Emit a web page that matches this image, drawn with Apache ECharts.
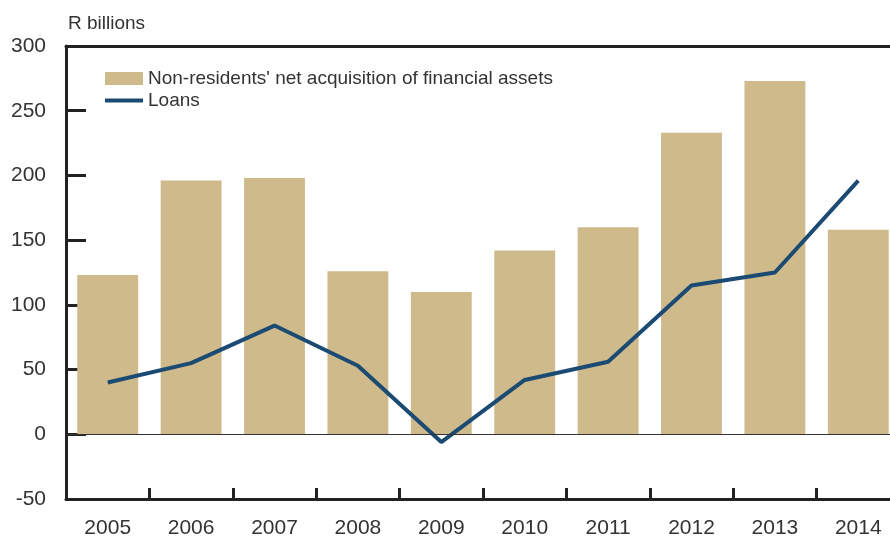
<!DOCTYPE html>
<html>
<head>
<meta charset="utf-8">
<script src="https://cdn.jsdelivr.net/npm/echarts@6/dist/echarts.min.js"></script>
<style>
  html, body { margin: 0; padding: 0; background: #fff; overflow: hidden; }
  /* chart is a bit wider than the window: the last bar is cut off at the right edge */
  #chart { width: 900px; height: 539px; }
</style>
</head>
<body>
<div id="chart"></div>
<script>
const years = ['2005', '2006', '2007', '2008', '2009', '2010', '2011', '2012', '2013', '2014'];
const netAcquisition = [123, 196, 198, 126, 110, 142, 160, 233, 273, 158];
const loans = [40, 55, 84, 53, -6, 42, 56, 115, 125, 196];
const yTicks = [-50, 0, 50, 100, 150, 200, 250, 300];

const barName = "Non-residents' net acquisition of financial assets";
const lineName = 'Loans';
const font = 'Liberation Sans, Arial, sans-serif';
const ink = '#333';

const chart = echarts.init(document.getElementById('chart'));
chart.setOption({
  animation: false,
  textStyle: { fontFamily: font },
  grid: { left: 66, right: 0, top: 46, bottom: 37 },
  title: {
    text: 'R billions',
    left: 63, top: 9,
    textStyle: { fontSize: 19, fontWeight: 'normal', color: ink, fontFamily: font }
  },
  legend: [
    {
      data: [{ name: barName, icon: 'rect' }],
      left: 100, top: 64, itemWidth: 38, itemHeight: 13, itemGap: 10,
      textStyle: { fontSize: 19, color: ink, fontFamily: font }
    },
    {
      data: [{ name: lineName, icon: 'rect' }],
      left: 100, top: 86, itemWidth: 38, itemHeight: 4, itemGap: 10,
      textStyle: { fontSize: 19, color: ink, fontFamily: font }
    }
  ],
  xAxis: [
    {
      type: 'category',
      data: years,
      position: 'bottom',
      axisLine: { onZero: false, lineStyle: { color: '#222', width: 3 } },
      axisTick: { show: true, inside: true, length: 11, lineStyle: { color: '#222', width: 3 } },
      axisLabel: { fontSize: 21, color: ink, margin: 19 },
      splitLine: { show: false }
    },
    {
      type: 'category',
      data: years,
      position: 'top',
      axisLine: { onZero: false, lineStyle: { color: '#222', width: 3 } },
      axisTick: { show: false },
      axisLabel: { show: false }
    }
  ],
  yAxis: {
    type: 'value',
    min: yTicks[0],
    max: yTicks[yTicks.length - 1],
    interval: 50,
    axisLine: { show: true, lineStyle: { color: '#222', width: 3 } },
    axisTick: { show: true, inside: true, length: 20, lineStyle: { color: '#222', width: 3 } },
    axisLabel: { fontSize: 21, color: ink, margin: 20 },
    splitLine: { show: false }
  },
  series: [
    {
      name: barName,
      type: 'bar',
      data: netAcquisition,
      barCategoryGap: '27%',
      itemStyle: { color: '#cfba8c' },
      markLine: {
        silent: true,
        symbol: 'none',
        label: { show: false },
        lineStyle: { color: '#333', width: 1.2, type: 'solid' },
        data: [{ yAxis: 0 }]
      }
    },
    {
      name: lineName,
      type: 'line',
      data: loans,
      symbol: 'none',
      lineStyle: { color: '#1b4a72', width: 4 },
      itemStyle: { color: '#1b4a72' }
    }
  ]
});
</script>
</body>
</html>
